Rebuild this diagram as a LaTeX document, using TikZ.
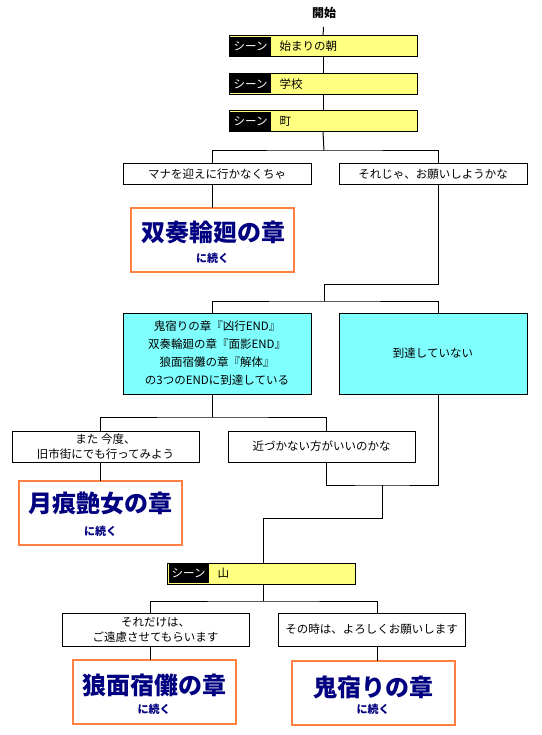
\documentclass[tikz,border=0pt]{standalone}
\usepackage{fontspec}
\setmainfont{Noto Sans CJK JP}
\definecolor{scnyel}{HTML}{FFFF80}
\definecolor{scncyan}{HTML}{80FFFF}
\definecolor{scnorange}{HTML}{FF8040}
\definecolor{ttlblue}{HTML}{000080}
\tikzset{
  base/.style={draw=black, line width=1pt, inner sep=0pt, outer sep=0pt, align=center, font=\fontsize{11.5}{15}\selectfont},
  scenebox/.style={base, fill=scnyel, minimum width=188pt, minimum height=21pt},
  choice/.style={base, fill=white, minimum width=188pt, minimum height=21pt},
  condbox/.style={base, fill=scncyan, minimum width=188pt, minimum height=81pt, font=\fontsize{11.5}{18}\selectfont},
  chapbox/.style={draw=scnorange, line width=2pt, fill=white, minimum width=163pt, minimum height=64pt, inner sep=0pt, outer sep=0pt},
  chaptitle/.style={text=ttlblue, inner sep=0pt, font=\bfseries\fontsize{24}{28}\selectfont},
  chapsub/.style={text=ttlblue, inner sep=0pt, font=\bfseries\fontsize{11}{13}\selectfont},
  scenetag/.style={fill=black, text=white, anchor=west, minimum width=41pt, minimum height=19pt, inner sep=0pt, font=\fontsize{11.5}{14}\selectfont},
  scenetext/.style={anchor=west, inner sep=0pt, font=\fontsize{11.5}{14}\selectfont},
  conn/.style={draw=black, line width=1pt},
}
\begin{document}
\begin{tikzpicture}[x=1pt,y=-1pt]
\fill[white] (0,0) rectangle (541,735);
\useasboundingbox (0,0) rectangle (541,735);

% start
\node[inner sep=0pt, font=\bfseries\fontsize{12}{14}\selectfont] (start) at (324,13) {開始};

% scenes
\node[scenebox] (s1) at (323,46.5) {};
\node[scenetag] (t1) at ([xshift=1pt]s1.west) {シーン};
\node[scenetext] (x1) at ([xshift=50.5pt]s1.west) {始まりの朝};
\node[scenebox] (s2) at (323,84) {};
\node[scenetag] (t2) at ([xshift=1pt]s2.west) {シーン};
\node[scenetext] (x2) at ([xshift=50.5pt]s2.west) {学校};
\node[scenebox] (s3) at (323,121.5) {};
\node[scenetag] (t3) at ([xshift=1pt]s3.west) {シーン};
\node[scenetext] (x3) at ([xshift=50.5pt]s3.west) {町};

% first choice
\node[choice] (c1a) at (217,174.5) {マナを迎えに行かなくちゃ};
\node[choice] (c1b) at (433,174.5) {それじゃ、お願いしようかな};

\node[chapbox] (o1) at (212.5,240) {};
\node[chaptitle] (o1t) at (213.5,232.5) {双奏輪廻の章};
\node[chapsub] (o1s) at (212.5,258.5) {に続く};

% conditions
\node[condbox] (cy1) at (217,353.5) {鬼宿りの章『凶行END』\\双奏輪廻の章『面影END』\\狼面宿儺の章『解体』\hspace*{10pt}\\の3つのENDに到達している};
\node[condbox] (cy2) at (433,353.5) {到達していない};

% second choice
\node[choice, minimum width=187pt, minimum height=31pt] (m1) at (105.5,446.5) {また 今度、\\旧市街にでも行ってみよう};
\node[choice, minimum width=187pt, minimum height=31pt] (m2) at (321.5,446.5) {近づかない方がいいのかな};

\node[chapbox] (o2) at (100.5,513) {};
\node[chaptitle] (o2t) at (100.5,503) {月痕艶女の章};
\node[chapsub] (o2s) at (100.5,531.5) {に続く};

% mountain scene
\node[scenebox] (s4) at (261,573.5) {};
\node[scenetag, minimum width=40pt] (t4) at ([xshift=1.5pt]s4.west) {シーン};
\node[scenetext] (x4) at ([xshift=50.5pt]s4.west) {山};

% third choice
\node[choice, minimum width=187pt, minimum height=33pt] (e1) at (155.5,629.5) {それだけは、\\ご遠慮させてもらいます};
\node[choice, minimum width=187pt, minimum height=33pt] (e2) at (371.5,629.5) {その時は、よろしくお願いします};

\node[chapbox] (o3) at (154,692) {};
\node[chaptitle] (o3t) at (154,685) {狼面宿儺の章};
\node[chapsub] (o3s) at (154,709.5) {に続く};
\node[chapbox] (o4) at (373,693) {};
\node[chaptitle] (o4t) at (373,687) {鬼宿りの章};
\node[chapsub] (o4s) at (373,709.5) {に続く};

% junction coordinates
\coordinate (xL1) at (212,0);
\coordinate (xR1) at (438,0);
\coordinate (xL2) at (100,0);
\coordinate (xL3) at (326,0);
\coordinate (xL4) at (150,0);
\coordinate (xR4) at (377,0);
\coordinate (jA) at (324,151);
\coordinate (jB) at (324,284);
\coordinate (jC) at (324,301);
\coordinate (jD) at (212,417);
\coordinate (jE) at (382,485);
\coordinate (jF) at (263,518);
\coordinate (jG) at (263,601);

% connectors
\draw[conn, shorten <=8pt] (start.south) -- (s1.north);
\draw[conn] (s1.south) -- (s2.north);
\draw[conn] (s2.south) -- (s3.north);
\draw[conn] (s3.south) -- (jA);
\draw[conn] (c1a.north -| xL1) |- (jA) -| (c1b.north -| xR1);
\draw[conn] (c1a.south -| xL1) -- (o1.north -| xL1);
\draw[conn] (c1b.south -| xR1) |- (jB) -- (jC);
\draw[conn] (cy1.north -| xL1) |- (jC) -| (cy2.north -| xR1);
\draw[conn] (cy1.south -| xL1) -- (jD);
\draw[conn] (m1.north -| xL2) |- (jD) -| (m2.north -| xL3);
\draw[conn] (m1.south -| xL2) -- (o2.north -| xL2);
\draw[conn] (m2.south -| xL3) |- (jE) -| (cy2.south -| xR1);
\draw[conn] (jE) |- (jF) -- (s4.north -| jF);
\draw[conn] (s4.south -| jF) -- (jG);
\draw[conn] (e1.north -| xL4) |- (jG) -| (e2.north -| xR4);
\draw[conn] (e1.south -| xL4) -- (o3.north -| xL4);
\draw[conn] (e2.south -| xR4) -- (o4.north -| xR4);
\end{tikzpicture}
\end{document}
